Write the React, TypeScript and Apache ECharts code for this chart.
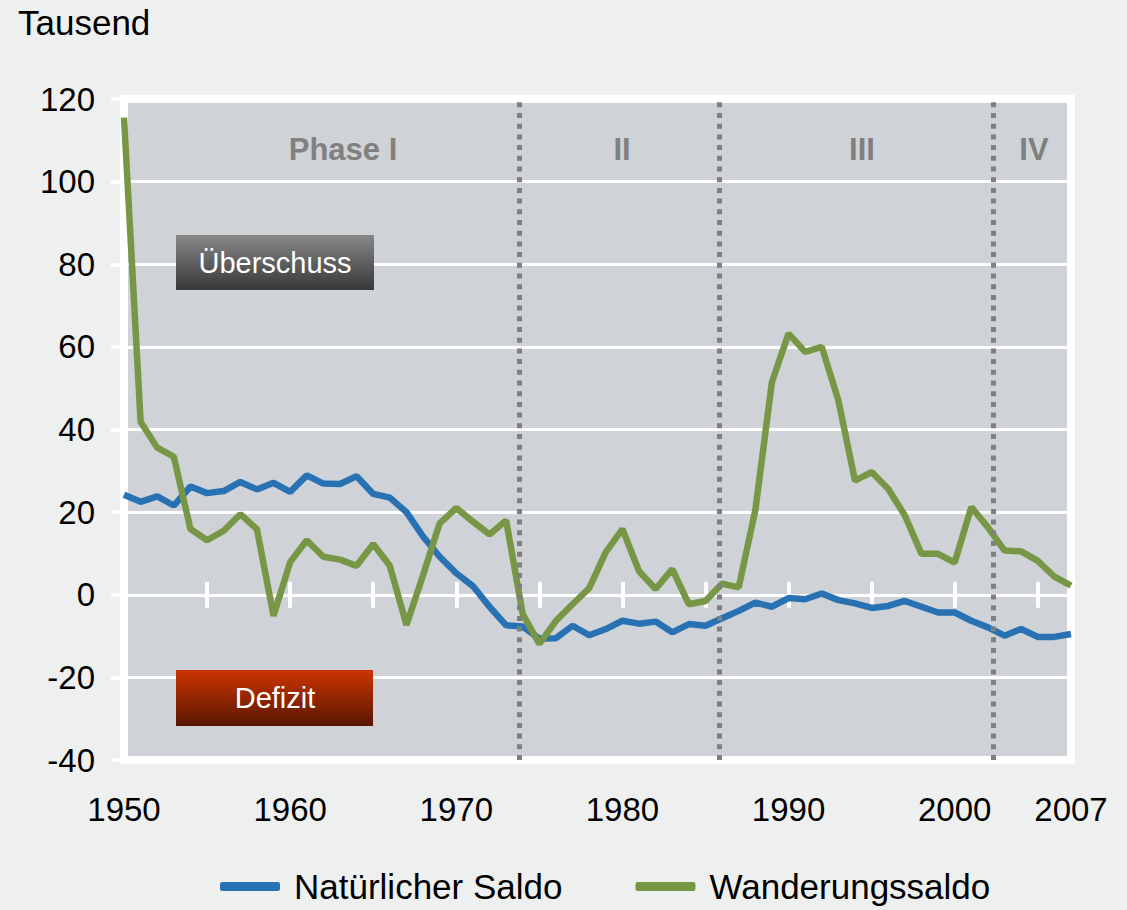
import React, { useEffect, useRef } from "react";
import * as echarts from "echarts";

const years: number[] = [
  1950, 1951, 1952, 1953, 1954, 1955, 1956, 1957, 1958, 1959,
  1960, 1961, 1962, 1963, 1964, 1965, 1966, 1967, 1968, 1969,
  1970, 1971, 1972, 1973, 1974, 1975, 1976, 1977, 1978, 1979,
  1980, 1981, 1982, 1983, 1984, 1985, 1986, 1987, 1988, 1989,
  1990, 1991, 1992, 1993, 1994, 1995, 1996, 1997, 1998, 1999,
  2000, 2001, 2002, 2003, 2004, 2005, 2006, 2007,
];

const naturalSaldo: number[] = [
  24.2, 22.5, 23.8, 21.6, 26.2, 24.6, 25.1, 27.3, 25.5, 27.1,
  24.9, 28.9, 26.9, 26.8, 28.7, 24.4, 23.5, 20.0, 14.1, 9.2,
  5.2, 2.1, -2.9, -7.4, -7.7, -10.6, -10.5, -7.5, -9.8, -8.3,
  -6.3, -7.0, -6.5, -9.1, -7.1, -7.5, -5.7, -3.9, -1.9, -2.9,
  -0.8, -1.1, 0.3, -1.3, -2.1, -3.2, -2.7, -1.5, -2.9, -4.3,
  -4.3, -6.3, -7.9, -9.9, -8.3, -10.2, -10.2, -9.5,
];

const migrationSaldo: number[] = [
  115.5, 41.9, 35.6, 33.4, 15.9, 13.2, 15.5, 19.5, 15.9, -5.1,
  7.9, 13.2, 9.2, 8.5, 7.0, 12.3, 7.0, -7.3, 4.7, 17.3,
  21.0, 17.7, 14.6, 18.0, -4.7, -11.9, -6.3, -2.3, 1.6, 10.3,
  15.9, 5.7, 1.4, 6.2, -2.3, -1.5, 2.7, 1.8, 20.5, 51.5,
  63.2, 58.8, 60.0, 47.0, 27.6, 29.7, 25.6, 19.2, 9.9, 9.9,
  7.8, 21.2, 16.3, 10.7, 10.5, 8.2, 4.4, 2.2,
];

const seriesNames: string[] = ["Natürlicher Saldo", "Wanderungssaldo"];
const phaseBoundaries: number[] = [1973.8, 1985.8, 2002.3];
const phaseLabels: string[] = ["Phase I", "II", "III", "IV"];
const phaseLabelX: number[] = [343, 622, 862, 1034];
const unitLabel = "Tausend";
const surplusLabel = "Überschuss";
const deficitLabel = "Defizit";

const FONT = "'Liberation Sans', Arial, Helvetica, sans-serif";

export default function App() {
  const ref = useRef<HTMLDivElement>(null);

  useEffect(() => {
    if (!ref.current) return;
    const chart = echarts.init(ref.current, undefined, { renderer: "svg" });

    const natural = years.map((y, i) => [y, naturalSaldo[i]]);
    const migration = years.map((y, i) => [y, migrationSaldo[i]]);

    const baseX = { type: "value", min: 1950, max: 2007, gridIndex: 0 };

    const option: any = {
      animation: false,
      backgroundColor: "#eef0ef",
      textStyle: { fontFamily: FONT },
      grid: {
        left: 124,
        right: 56,
        top: 99,
        bottom: 150,
        show: true,
        backgroundColor: "#cfd3d7",
        borderColor: "#ffffff",
        borderWidth: 8,
      },
      legend: {
        left: 220,
        top: 869,
        padding: 0,
        itemWidth: 60,
        itemHeight: 9,
        itemGap: 73,
        icon: "roundRect",
        data: seriesNames,
        textStyle: {
          fontSize: 35,
          color: "#000",
          fontFamily: FONT,
          padding: [0, 0, 0, 9],
        },
      },
      xAxis: [
        {
          ...baseX,
          interval: 10,
          position: "bottom",
          axisLine: { show: false, onZero: false },
          axisTick: { show: false },
          splitLine: { show: false },
          axisLabel: {
            fontSize: 33,
            color: "#000",
            margin: 33,
            fontFamily: FONT,
            showMinLabel: true,
            showMaxLabel: true,
            formatter: (v: number) => String(Math.round(v)),
          },
        },
        {
          ...baseX,
          interval: 5,
          position: "bottom",
          axisLine: {
            show: true,
            onZero: true,
            onZeroAxisIndex: 0,
            lineStyle: { color: "#ffffff", width: 3 },
          },
          axisTick: { show: true, length: 13, lineStyle: { color: "#ffffff", width: 4 } },
          axisLabel: { show: false },
          splitLine: { show: false },
        },
        {
          ...baseX,
          interval: 5,
          position: "bottom",
          axisLine: {
            show: false,
            onZero: true,
            onZeroAxisIndex: 0,
          },
          axisTick: {
            show: true,
            inside: true,
            length: 13,
            lineStyle: { color: "#ffffff", width: 4 },
          },
          axisLabel: { show: false },
          splitLine: { show: false },
        },
      ],
      yAxis: {
        type: "value",
        min: -40,
        max: 120,
        interval: 20,
        axisLine: { show: false, onZero: false },
        axisTick: { show: true, length: 13, lineStyle: { color: "#ffffff", width: 3.5 } },
        splitLine: { show: true, lineStyle: { color: "#ffffff", width: 3 } },
        axisLabel: { fontSize: 33, color: "#000", margin: 29, fontFamily: FONT },
      },
      series: [
        {
          name: seriesNames[0],
          type: "line",
          data: natural,
          showSymbol: false,
          symbol: "none",
          color: "#2872b4",
          lineStyle: { width: 6.5, color: "#2872b4" },
          z: 3,
          markLine: {
            silent: true,
            symbol: ["none", "none"],
            label: { show: false },
            lineStyle: { color: "#7f7f7f", width: 5, type: [5, 5.7] },
            data: phaseBoundaries.map((x) => ({ xAxis: x })),
          },
        },
        {
          name: seriesNames[1],
          type: "line",
          data: migration,
          showSymbol: false,
          symbol: "none",
          color: "#789746",
          lineStyle: { width: 6.5, color: "#789746" },
          z: 4,
        },
      ],
      graphic: [
        {
          type: "text",
          left: 18,
          top: 5,
          style: { text: unitLabel, fontSize: 35, fill: "#000", fontFamily: FONT },
        },
        ...phaseLabels.map((t, i) => ({
          type: "text",
          x: phaseLabelX[i],
          y: 149,
          z: 10,
          style: {
            text: t,
            fontSize: 31,
            fontWeight: "bold",
            fill: "#808080",
            fontFamily: FONT,
            align: "center",
            verticalAlign: "middle",
          },
        })),
        {
          type: "rect",
          z: 10,
          shape: { x: 176, y: 235, width: 198, height: 55 },
          style: {
            fill: new echarts.graphic.LinearGradient(0, 0, 0, 1, [
              { offset: 0, color: "#878787" },
              { offset: 1, color: "#383838" },
            ]),
          },
        },
        {
          type: "text",
          z: 11,
          x: 275,
          y: 263,
          style: {
            text: surplusLabel,
            fontSize: 29,
            fill: "#ffffff",
            fontFamily: FONT,
            align: "center",
            verticalAlign: "middle",
          },
        },
        {
          type: "rect",
          z: 10,
          shape: { x: 176, y: 670, width: 197, height: 56 },
          style: {
            fill: new echarts.graphic.LinearGradient(0, 0, 0, 1, [
              { offset: 0, color: "#cd3400" },
              { offset: 1, color: "#581600" },
            ]),
          },
        },
        {
          type: "text",
          z: 11,
          x: 275,
          y: 698,
          style: {
            text: deficitLabel,
            fontSize: 29,
            fill: "#ffffff",
            fontFamily: FONT,
            align: "center",
            verticalAlign: "middle",
          },
        },
      ],
    };

    chart.setOption(option);
    return () => chart.dispose();
  }, []);

  return (
    <div
      ref={ref}
      style={{ position: "absolute", left: 0, top: 0, width: 1127, height: 910 }}
    />
  );
}
